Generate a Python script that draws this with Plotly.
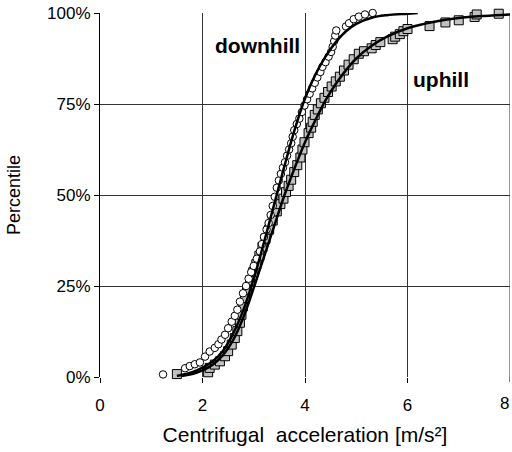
import plotly.graph_objects as go

# Downhill empirical data (acceleration m/s², percentile %)
down_x = [1.23, 1.66, 1.75, 1.85, 1.95, 2.05, 2.14, 2.24, 2.31, 2.37, 2.44, 2.50, 2.57, 2.63, 2.68,
          2.73, 2.79, 2.85, 2.90, 2.95, 3.00, 3.06, 3.12, 3.16, 3.20, 3.25, 3.29, 3.33, 3.37, 3.41,
          3.45, 3.49, 3.53, 3.57, 3.61, 3.65, 3.69, 3.73, 3.76, 3.79, 3.84, 3.89, 3.94, 3.99, 4.04,
          4.09, 4.14, 4.19, 4.24, 4.30, 4.34, 4.40, 4.46, 4.51, 4.54, 4.57, 4.59, 4.61, 4.80, 4.86,
          4.95, 5.05, 5.17, 5.32]
down_p = [0.7, 2.4, 3.0, 3.5, 4.0, 5.6, 7.0, 8.0, 9.0, 10.3, 11.6, 13.4, 15.2, 16.8, 18.5,
          20.7, 23.0, 25.0, 27.0, 28.8, 30.5, 32.5, 34.5, 36.5, 38.5, 40.5, 42.3, 44.5, 47.0, 49.5,
          52.0, 54.0, 55.8, 57.5, 59.0, 60.8, 62.5, 64.2, 66.0, 67.8, 69.5, 71.0, 72.8, 74.6, 76.3,
          77.8, 79.3, 80.8, 82.3, 83.8, 85.2, 86.5, 88.0, 89.3, 90.7, 92.3, 93.8, 95.2, 96.3, 97.2,
          98.3, 99.0, 99.6, 100.0]

# Uphill empirical data
up_x = [1.50, 2.11, 2.14, 2.24, 2.34, 2.44, 2.50, 2.57, 2.63, 2.68, 2.73, 2.76, 2.79, 2.83, 2.87,
        2.93, 2.99, 3.05, 3.11, 3.17, 3.23, 3.30, 3.37, 3.45, 3.52, 3.58, 3.63, 3.68, 3.73, 3.79,
        3.85, 3.91, 3.95, 3.99, 4.07, 4.12, 4.15, 4.19, 4.25, 4.31, 4.38, 4.45, 4.52, 4.60, 4.68,
        4.76, 4.85, 4.95, 5.05, 5.15, 5.30, 5.38, 5.47, 5.71, 5.76, 5.85, 5.92, 6.00, 6.43, 6.74,
        7.00, 7.31, 7.35, 7.78]
up_p = [0.8, 1.3, 2.5, 3.4, 4.3, 5.7, 7.1, 8.9, 10.7, 12.6, 14.9, 17.1, 19.4, 21.7, 24.0,
        26.5, 28.8, 31.0, 33.3, 35.7, 38.0, 40.5, 43.0, 45.5, 47.5, 49.0, 50.8, 52.5, 54.2, 56.3,
        58.2, 60.3, 62.5, 64.5, 67.0, 68.5, 70.1, 72.0, 73.5, 75.2, 76.7, 78.3, 79.8, 81.2, 82.5,
        84.2, 85.8, 87.3, 88.8, 89.5, 90.3, 91.2, 92.0, 92.8, 93.5, 94.2, 95.0, 95.6, 96.4, 97.4,
        98.0, 98.9, 99.6, 99.8]

# Fitted curves
down_fit_x = [1.5, 1.8, 2.0, 2.2, 2.4, 2.6, 2.8, 3.0, 3.2, 3.4, 3.6, 3.8, 4.0, 4.2, 4.4, 4.6,
              4.8, 5.0, 5.3, 5.6, 6.0, 6.2]
down_fit_p = [0.3, 1.3, 2.6, 4.3, 7.2, 12.0, 18.5, 27.0, 37.0, 47.5, 58.0, 68.0, 76.5, 83.0, 88.0,
              92.0, 95.0, 97.0, 98.7, 99.4, 99.8, 100.0]
up_fit_x = [1.6, 1.8, 2.0, 2.2, 2.4, 2.6, 2.8, 3.0, 3.2, 3.4, 3.6, 3.8, 4.0, 4.2, 4.4, 4.6, 4.8,
            5.0, 5.3, 5.6, 6.0, 6.5, 7.0, 7.5, 8.0]
up_fit_p = [0.3, 0.8, 1.8, 3.4, 6.0, 10.2, 16.5, 24.5, 33.0, 41.5, 50.0, 57.5, 64.5, 70.5, 76.0, 80.5,
            84.3, 87.5, 91.0, 93.5, 95.8, 97.5, 98.6, 99.2, 99.6]

x_ticks = [0, 2, 4, 6, 8]
x_labels = ["0", "2", "4", "6", "8"]
y_ticks = [0, 25, 50, 75, 100]
y_labels = ["0%", "25%", "50%", "75%", "100%"]

FONT = "Liberation Sans, Arial, sans-serif"

fig = go.Figure()
fig.add_trace(go.Scatter(x=up_x, y=up_p, mode="markers", cliponaxis=False,
                         marker=dict(symbol="square", size=9, color="#c0c0c0",
                                     line=dict(color="black", width=1)), showlegend=False))
fig.add_trace(go.Scatter(x=down_x, y=down_p, mode="markers", cliponaxis=False,
                         marker=dict(symbol="circle", size=7.5, color="white",
                                     line=dict(color="black", width=1)), showlegend=False))
fig.add_trace(go.Scatter(x=up_fit_x, y=up_fit_p, mode="lines", line=dict(color="black", width=2.5, shape="spline"),
                         cliponaxis=False, showlegend=False))
fig.add_trace(go.Scatter(x=down_fit_x, y=down_fit_p, mode="lines", line=dict(color="black", width=2.5, shape="spline"),
                         cliponaxis=False, showlegend=False))

fig.add_annotation(x=3.08, y=91.1, text="<b>downhill</b>", showarrow=False,
                   font=dict(family=FONT, size=21, color="black"))
fig.add_annotation(x=6.66, y=81.8, text="<b>uphill</b>", showarrow=False,
                   font=dict(family=FONT, size=21, color="black"))

# right-edge gridline, tick and "8" label
fig.add_shape(type="line", xref="x", yref="paper", x0=8, x1=8, y0=0, y1=1,
              line=dict(color="#333333", width=1), layer="below")
fig.add_shape(type="line", xref="x", yref="paper", x0=8, x1=8, y0=0, y1=-0.014,
              line=dict(color="black", width=1))
fig.add_annotation(x=8, xref="x", y=-0.04, yref="paper", yanchor="top", xanchor="right",
                   xshift=1, text="8", showarrow=False, font=dict(family=FONT, size=17, color="black"))

fig.update_layout(
    width=512, height=452,
    margin=dict(l=100, r=2, t=13, b=75),
    paper_bgcolor="white", plot_bgcolor="white",
    font=dict(family=FONT, color="black"),
    xaxis=dict(range=[0, 8], tickvals=x_ticks[:-1], ticktext=x_labels[:-1], showgrid=True,
               gridcolor="#333333", gridwidth=1,
               ticks="outside", ticklen=5, tickcolor="black", zeroline=False,
               showline=False, tickfont=dict(size=17), ticklabelstandoff=8,
               title=dict(text="Centrifugal  acceleration [m/s²]", font=dict(size=21), standoff=12)),
    yaxis=dict(range=[0, 100], tickvals=y_ticks, ticktext=y_labels, showgrid=True, gridcolor="#333333",
               gridwidth=1, ticks="outside", ticklen=5, tickcolor="black", zeroline=False,
               showline=True, linecolor="black", linewidth=1, tickfont=dict(size=17),
               title=dict(text="Percentile", font=dict(size=18), standoff=21)),
)

fig.write_html("out.html")
